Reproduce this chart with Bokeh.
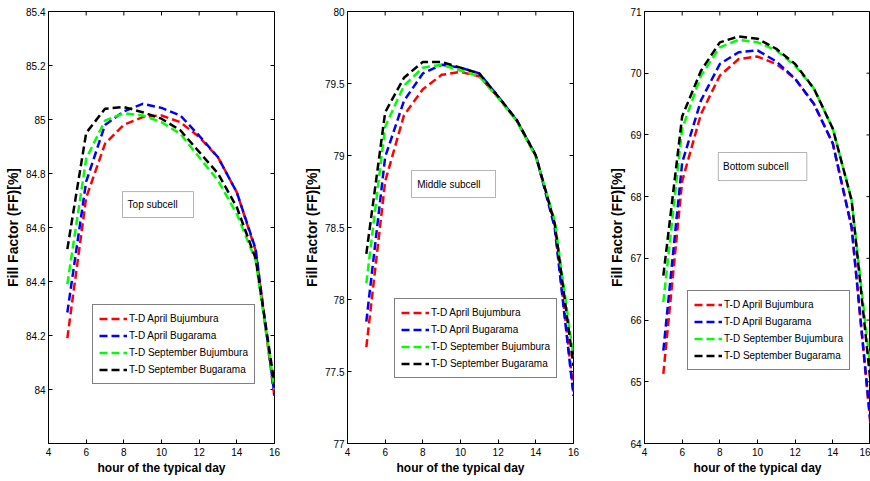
import math
from bokeh.plotting import figure
from bokeh.layouts import row
from bokeh.models import Range1d, FixedTicker, Legend, LegendItem, Label, BoxAnnotation
from bokeh.embed import file_html
from bokeh.resources import INLINE

# ---------------- data ----------------
hours = [5, 6, 7, 8, 9, 10, 11, 12, 13, 14, 15, 16]
series_names = ["T-D April Bujumbura", "T-D April Bugarama",
                "T-D September Bujumbura", "T-D September Bugarama"]
series_colors = ["#ff0000", "#0000ff", "#00ff00", "#000000"]

# Top subcell
top_apr_buj = [84.19, 84.71, 84.91, 84.98, 85.009, 85.015, 84.99, 84.935, 84.86, 84.73, 84.515, 83.97]
top_apr_bug = [84.285, 84.77, 84.98, 85.03, 85.058, 85.043, 85.015, 84.94, 84.86, 84.73, 84.52, 83.98]
top_sep_buj = [84.39, 84.855, 84.996, 85.023, 85.015, 84.99, 84.947, 84.86, 84.774, 84.65, 84.478, 84.0]
top_sep_bug = [84.52, 84.95, 85.04, 85.046, 85.027, 85.003, 84.96, 84.88, 84.80, 84.675, 84.485, 84.02]

# Middle subcell
mid_apr_buj = [77.669, 78.82, 79.28, 79.46, 79.56, 79.58, 79.55, 79.405, 79.24, 79.0, 78.52, 77.36]
mid_apr_bug = [77.847, 78.99, 79.38, 79.57, 79.63, 79.61, 79.57, 79.41, 79.24, 79.0, 78.50, 77.33]
mid_sep_buj = [78.113, 79.2, 79.486, 79.61, 79.63, 79.59, 79.55, 79.40, 79.235, 78.99, 78.55, 77.60]
mid_sep_bug = [78.317, 79.30, 79.54, 79.65, 79.65, 79.61, 79.57, 79.41, 79.245, 79.0, 78.53, 77.54]

# Bottom subcell
bot_apr_buj = [65.128, 68.25, 69.34, 69.96, 70.23, 70.27, 70.15, 69.91, 69.50, 68.86, 67.50, 64.3]
bot_apr_bug = [65.506, 68.55, 69.56, 70.15, 70.34, 70.37, 70.19, 69.91, 69.50, 68.86, 67.50, 64.35]
bot_sep_buj = [66.29, 69.10, 69.96, 70.42, 70.54, 70.50, 70.37, 70.12, 69.75, 69.10, 67.94, 65.2]
bot_sep_bug = [66.72, 69.30, 70.04, 70.50, 70.595, 70.56, 70.395, 70.15, 69.75, 69.10, 67.94, 65.0]

x_ticks = [4, 6, 8, 10, 12, 14, 16]
top_y_ticks = [84, 84.2, 84.4, 84.6, 84.8, 85, 85.2, 85.4]
top_y_labels = ["84", "84.2", "84.4", "84.6", "84.8", "85", "85.2", "85.4"]
mid_y_ticks = [77, 77.5, 78, 78.5, 79, 79.5, 80]
mid_y_labels = ["77", "77.5", "78", "78.5", "79", "79.5", "80"]
bot_y_ticks = [64, 65, 66, 67, 68, 69, 70, 71]
bot_y_labels = ["64", "65", "66", "67", "68", "69", "70", "71"]

x_label = "hour of the typical day"
y_label = "Fill Factor (FF)[%]"
FONT = "Liberation Sans"
X_MIN, X_MAX = 4, 16


def make_panel(series, y_range, yticks, ylabels, left_b, right_b,
               legend_loc, box, label_text, label_xy):
    p = figure(frame_width=226, frame_height=432,
               x_range=Range1d(X_MIN, X_MAX), y_range=Range1d(*y_range),
               output_backend="svg", toolbar_location=None,
               min_border_left=left_b, min_border_right=right_b,
               min_border_top=11, min_border_bottom=0)
    p.background_fill_color = "white"
    p.border_fill_color = "white"
    p.grid.visible = False
    p.outline_line_color = "black"
    p.outline_line_width = 1

    p.xaxis.ticker = FixedTicker(ticks=x_ticks)
    p.yaxis.ticker = FixedTicker(ticks=yticks)
    p.yaxis.major_label_overrides = {t: l for t, l in zip(yticks, ylabels)}
    p.xaxis.axis_label = x_label
    p.yaxis.axis_label = y_label
    for ax in (p.xaxis[0], p.yaxis[0]):
        ax.major_tick_in = 4
        ax.major_tick_out = 0
        ax.minor_tick_line_color = None
        ax.axis_line_color = "black"
        ax.major_tick_line_color = "black"
        ax.major_label_text_font = FONT
        ax.major_label_text_font_size = "10px"
        ax.major_label_text_color = "black"
        ax.major_label_standoff = 4
        ax.axis_label_text_font = FONT
        ax.axis_label_text_font_style = "bold"
        ax.axis_label_text_color = "black"
        ax.axis_label_standoff = 2
    p.yaxis.major_label_standoff = 3
    p.xaxis.axis_label_text_font_size = "12px"
    p.yaxis.axis_label_text_font_size = "14px"

    # inward ticks on the top and right sides of the box (MATLAB style)
    p.ray(x=x_ticks, y=[y_range[1]] * len(x_ticks), length=4, length_units="screen",
          angle=-math.pi / 2, line_color="black", line_width=1)
    p.ray(x=[X_MAX] * len(yticks), y=yticks, length=4, length_units="screen",
          angle=math.pi, line_color="black", line_width=1)

    items = []
    for name, color, vals in zip(series_names, series_colors, series):
        r = p.line(hours, vals, line_color=color, line_width=2.5, line_dash="8 4")
        items.append(LegendItem(label=name, renderers=[r]))

    legend = Legend(items=items, location=legend_loc,
                    border_line_color="black", border_line_width=1,
                    background_fill_color="white", background_fill_alpha=1,
                    label_text_font=FONT, label_text_font_size="10px", label_text_color="black",
                    glyph_width=28, glyph_height=15, label_height=15, spacing=2,
                    padding=6, margin=0, label_standoff=2)
    p.add_layout(legend)

    bl, br, bt, bb = box
    p.add_layout(BoxAnnotation(left=bl, right=br, top=bt, bottom=bb,
                               fill_color="white", fill_alpha=1,
                               line_color="black", line_width=1))
    p.add_layout(Label(x=label_xy[0], y=label_xy[1], text=label_text,
                       text_font=FONT, text_font_size="10px", text_color="black",
                       text_baseline="middle", text_align="left"))
    return p


p1 = make_panel([top_apr_buj, top_apr_bug, top_sep_buj, top_sep_bug], (83.8, 85.4),
                top_y_ticks, top_y_labels, 48, 25, (44, 59),
                (7.93, 11.70, 84.733, 84.637), "Top subcell", (8.2, 84.685))
p2 = make_panel([mid_apr_buj, mid_apr_bug, mid_sep_buj, mid_sep_bug], (77, 80),
                mid_y_ticks, mid_y_labels, 48, 31, (47, 65),
                (7.40, 11.86, 78.896, 78.708), "Middle subcell", (7.70, 78.802))
p3 = make_panel([bot_apr_buj, bot_apr_bug, bot_sep_buj, bot_sep_bug], (64, 71),
                bot_y_ticks, bot_y_labels, 40, 0, (43, 73),
                (7.92, 12.62, 68.715, 68.26), "Bottom subcell", (8.17, 68.49))

layout = row(p1, p2, p3)
open("out.html", "w").write(file_html(layout, INLINE))
